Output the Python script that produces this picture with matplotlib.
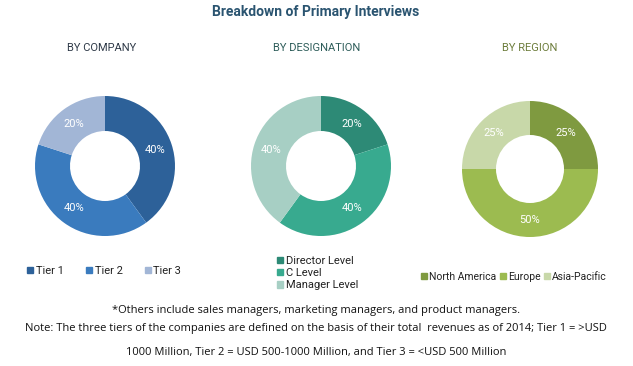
import matplotlib.pyplot as plt
from matplotlib.patches import Patch

# data
company_labels = ['Tier 1', 'Tier 2', 'Tier 3']
company_values = [40, 40, 20]
designation_labels = ['Director Level', 'C Level', 'Manager Level']
designation_values = [20, 40, 40]
region_labels = ['North America', 'Europe', 'Asia-Pacific']
region_values = [25, 50, 25]

company_colors = ['#2D6199', '#3A7BBE', '#A2B6D6']
designation_colors = ['#2D8A76', '#38AA8F', '#A7CFC4']
region_colors = ['#7F9A40', '#9CBB50', '#C8D8A9']

W, H = 633, 366
fig = plt.figure(figsize=(W / 100, H / 100), dpi=100)

cond = ['Roboto', 'DejaVu Sans']
body = ['Open Sans', 'DejaVu Sans']


def donut(cx, cy, r, values, colors):
    ax = fig.add_axes([(cx - r) / W, 1 - (cy + r) / H, 2 * r / W, 2 * r / H])
    wedges, texts = ax.pie(values, colors=colors, startangle=90, counterclock=False,
                           radius=1, wedgeprops=dict(width=0.5, edgecolor='none'),
                           labels=[f'{v}%' for v in values], labeldistance=0.75)
    for t in texts:
        t.set_color('white')
        t.set_fontsize(8)
        t.set_family(cond)
        t.set_ha('center')
        t.set_va('center')
    ax.set_xlim(-1, 1)
    ax.set_ylim(-1, 1)
    ax.set_aspect('equal')
    ax.axis('off')
    return ax


donut(105, 166, 70, company_values, company_colors)
donut(321, 166, 70, designation_values, designation_colors)
donut(530, 169, 68, region_values, region_colors)

fig.text(316 / W, 1 - 12 / H, 'Breakdown of Primary Interviews', ha='center', va='center',
         fontsize=10, fontweight='bold', color='#2A5470', family=cond)
fig.text(102 / W, 1 - 48 / H, 'BY COMPANY', ha='center', va='center', fontsize=8,
         color='#2F3A48', family=cond)
fig.text(317 / W, 1 - 48 / H, 'BY DESIGNATION', ha='center', va='center', fontsize=8,
         color='#2E5D5A', family=cond)
fig.text(530 / W, 1 - 48 / H, 'BY REGION', ha='center', va='center', fontsize=8,
         color='#6D7D3C', family=cond)


def legend(labels, colors, x, y, ncol, colspace, size=8):
    handles = [Patch(color=c, label=l) for l, c in zip(labels, colors)]
    fig.legend(handles=handles, loc='center', bbox_to_anchor=(x / W, 1 - y / H), ncol=ncol,
               columnspacing=colspace, labelspacing=0.2, borderpad=0, frameon=False,
               handlelength=0.55, handleheight=0.55, handletextpad=0.25,
               labelcolor='#222222', prop=dict(family=cond, size=size))


legend(company_labels, company_colors, 104, 271, 3, 2.0)
legend(designation_labels, designation_colors, 318, 273, 1, 1)
legend(region_labels, region_colors, 514, 277, 3, 0.3, size=7.5)

fig.text(316 / W, 1 - 311 / H,
         '*Others include sales managers, marketing managers, and product managers.',
         ha='center', va='center', fontsize=8, color='#111111', family=body)
fig.text(316 / W, 1 - 328 / H,
         'Note: The three tiers of the companies are defined on the basis of their total  revenues as of 2014; Tier 1 = >USD',
         ha='center', va='center', fontsize=8, color='#111111', family=body)
fig.text(316 / W, 1 - 352 / H,
         '1000 Million, Tier 2 = USD 500-1000 Million, and Tier 3 = <USD 500 Million',
         ha='center', va='center', fontsize=8, color='#111111', family=body)

fig.savefig('out.png', dpi=100)
